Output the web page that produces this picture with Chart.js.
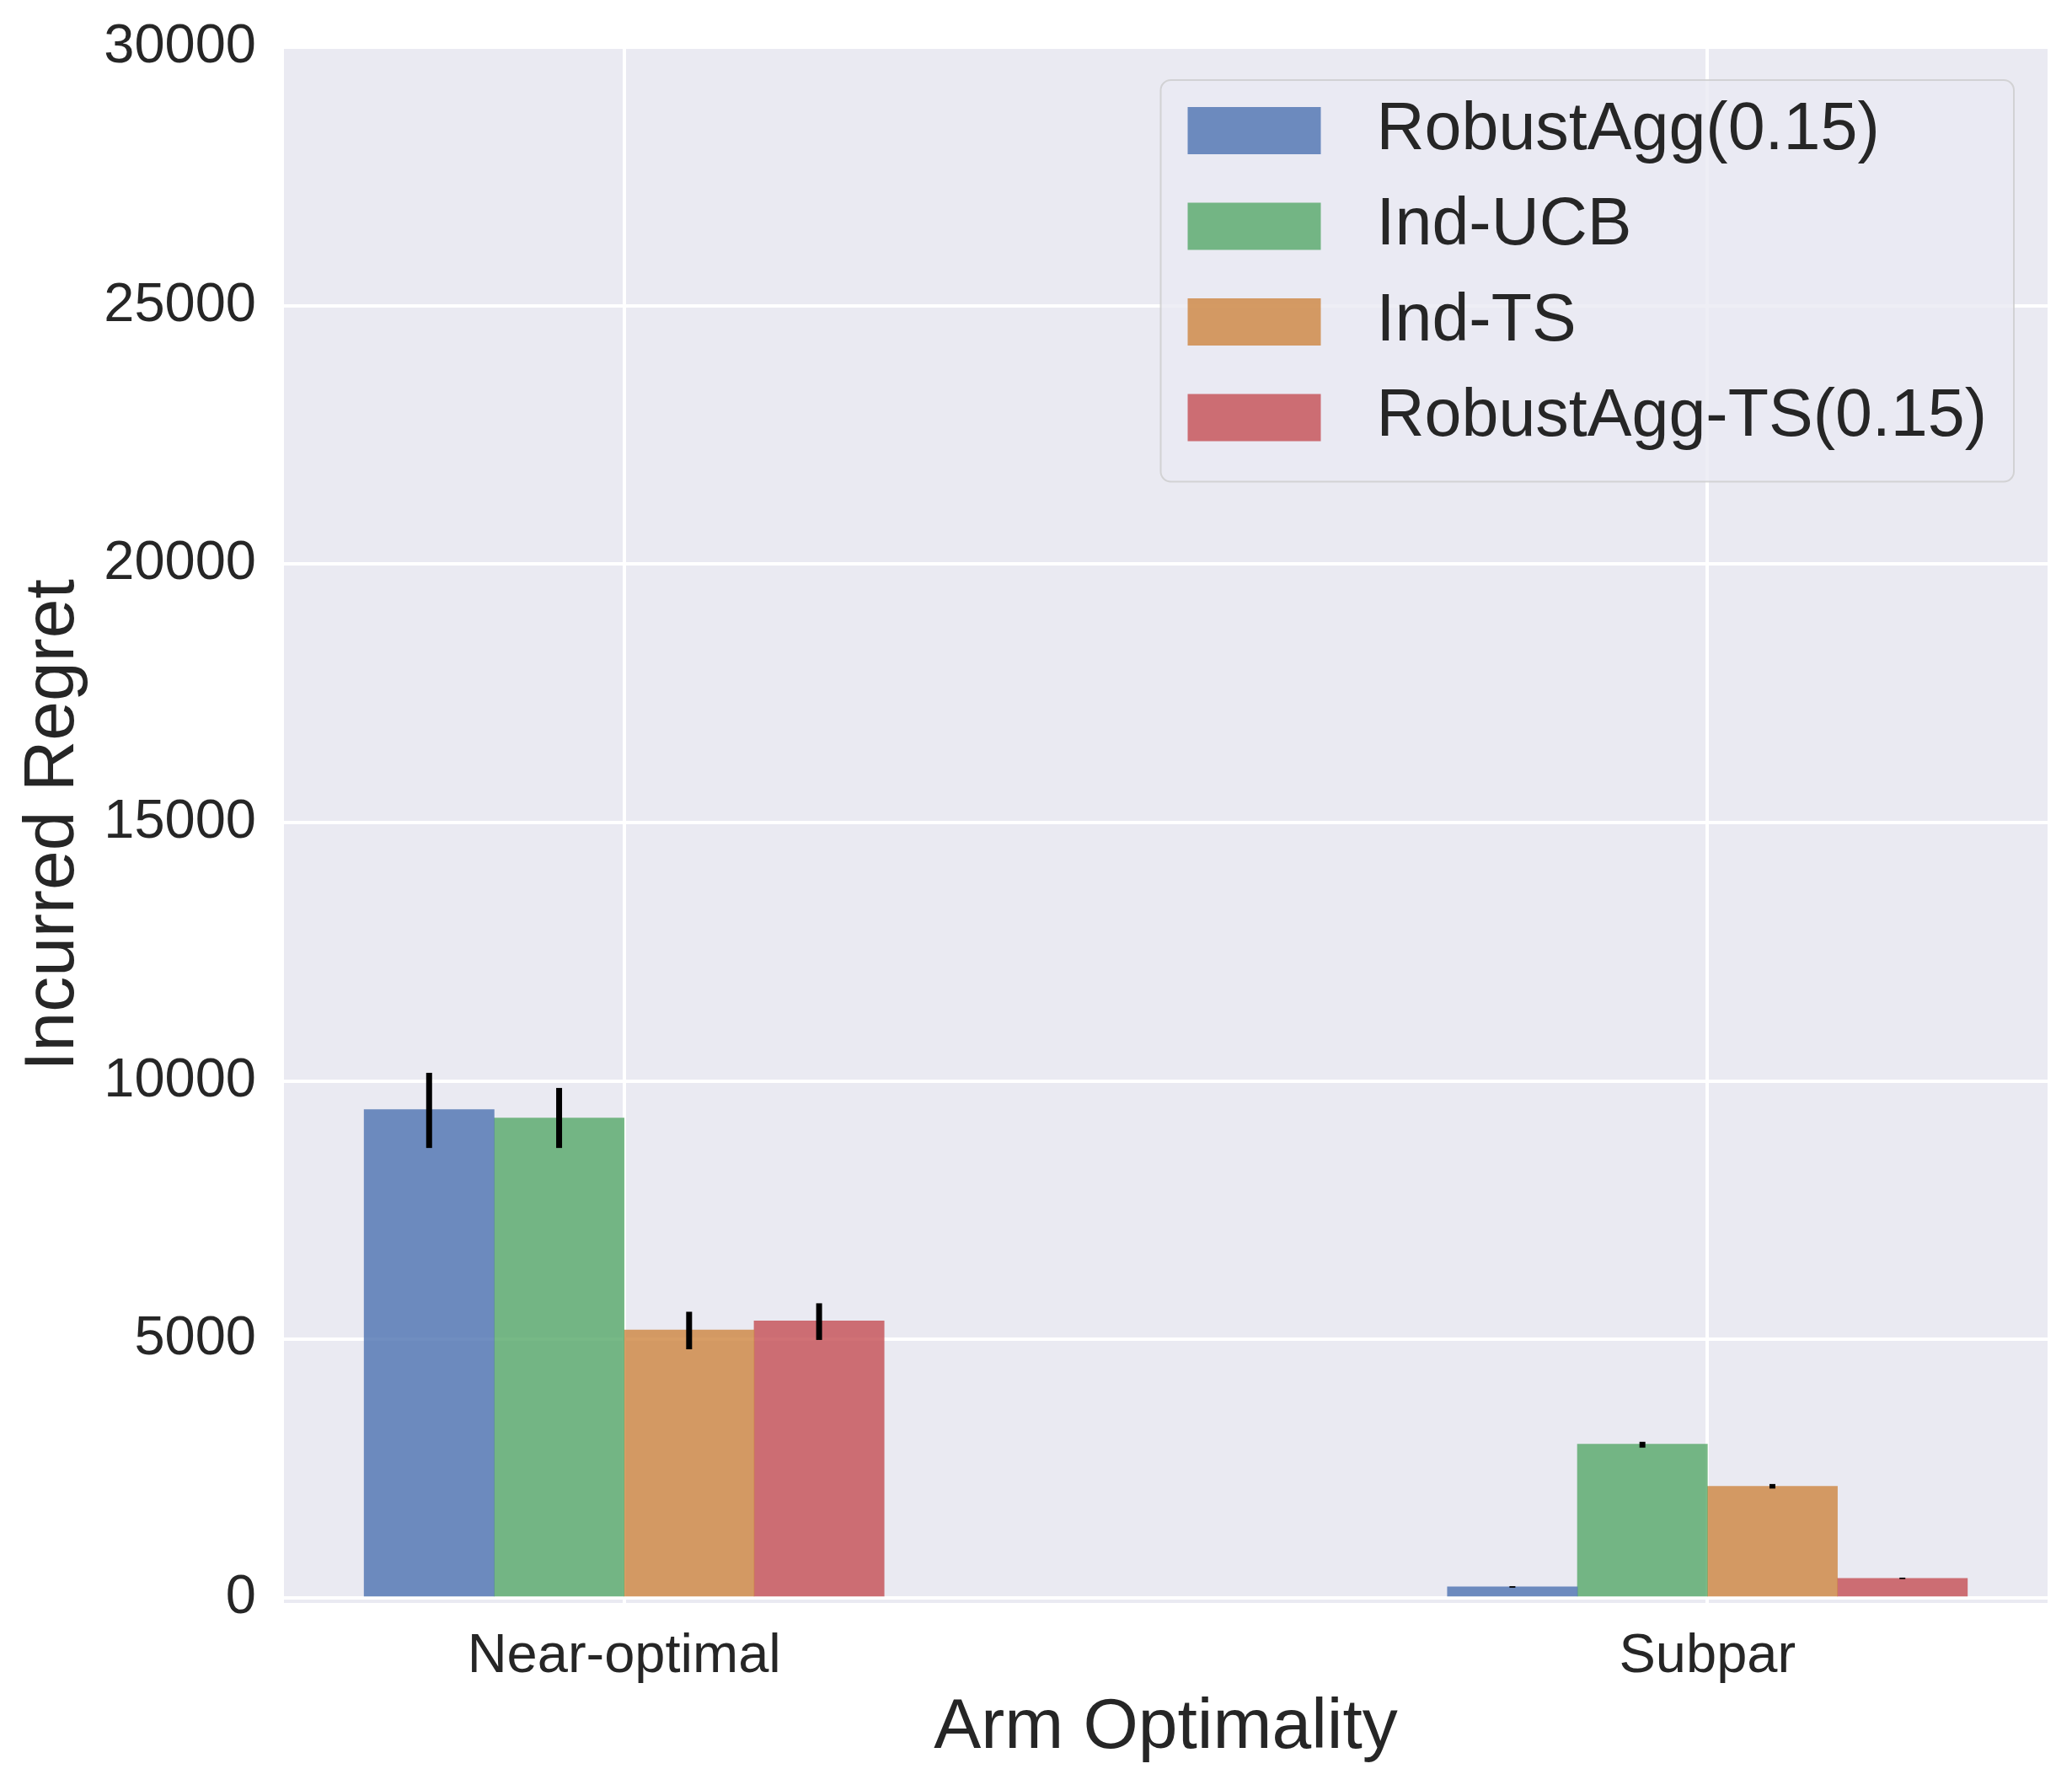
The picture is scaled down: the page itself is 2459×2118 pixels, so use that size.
<!DOCTYPE html>
<html>
<head>
<meta charset="utf-8">
<script src="https://cdn.jsdelivr.net/npm/chart.js@4/dist/chart.umd.min.js"></script>
<style>
  html, body { margin: 0; padding: 0; background: #ffffff; }
  canvas { display: block; }
</style>
</head>
<body>
<canvas id="canvas" width="2459" height="2118"></canvas>
<script>
const canvas = document.getElementById('canvas');
const ctx = canvas.getContext('2d');

// data
const categories = ['Near-optimal', 'Subpar'];
const seriesNames = ['RobustAgg(0.15)', 'Ind-UCB', 'Ind-TS', 'RobustAgg-TS(0.15)'];
const robustAgg = [9444, 212];
const indUcb = [9281, 2974];
const indTs = [5180, 2157];
const robustAggTs = [5359, 376];
// error bars as [low, high] per category
const robustAggErr = [[8703, 10157], [195, 225]];
const indUcbErr = [[8703, 9864], [2905, 3018]];
const indTsErr = [[4808, 5534], [2113, 2201]];
const robustAggTsErr = [[4989, 5698], [362, 390]];
const yTicks = [0, 5000, 10000, 15000, 20000, 25000, 30000];

const seriesValues = [robustAgg, indUcb, indTs, robustAggTs];
const seriesErrors = [robustAggErr, indUcbErr, indTsErr, robustAggTsErr];
const colors = [
  'rgba(76,114,176,0.8)',
  'rgba(85,168,104,0.8)',
  'rgba(205,133,63,0.8)',
  'rgba(196,78,82,0.8)'
];

const FONT = "'Liberation Sans', Arial, sans-serif";
const TEXT = '#262626';

// bars laid out like matplotlib: width 0.12 each, group centred on the category
const barWidth = 0.12;
const nSeries = seriesNames.length;
const halfGroup = barWidth * nSeries / 2;
const margin = 0.05 * (categories.length - 1 + 2 * halfGroup);

const datasets = seriesValues.map((vals, i) => ({
  label: seriesNames[i],
  data: vals.map((v, j) => ({ x: j + (i - (nSeries - 1) / 2) * barWidth, y: v })),
  backgroundColor: colors[i],
  borderWidth: 0,
  barPercentage: 1,
  categoryPercentage: 1,
  grouped: false
}));

const plotBackground = {
  id: 'plotBackground',
  beforeDraw(chart) {
    const { ctx, chartArea: a } = chart;
    ctx.save();
    ctx.fillStyle = '#eaeaf2';
    ctx.fillRect(a.left, a.top, a.right - a.left, a.bottom - a.top);
    ctx.restore();
  }
};

const errorBars = {
  id: 'errorBars',
  afterDatasetsDraw(chart) {
    const { ctx, scales: { y } } = chart;
    ctx.save();
    ctx.strokeStyle = '#000000';
    ctx.lineWidth = 7;
    ctx.lineCap = 'butt';
    chart.data.datasets.forEach((ds, i) => {
      const meta = chart.getDatasetMeta(i);
      seriesErrors[i].forEach(([lo, hi], j) => {
        const bar = meta.data[j];
        ctx.beginPath();
        ctx.moveTo(bar.x, y.getPixelForValue(lo));
        ctx.lineTo(bar.x, y.getPixelForValue(hi));
        ctx.stroke();
      });
    });
    ctx.restore();
  }
};

function roundedRect(c, x, y, w, h, r) {
  c.beginPath();
  c.moveTo(x + r, y);
  c.lineTo(x + w - r, y);
  c.arcTo(x + w, y, x + w, y + r, r);
  c.lineTo(x + w, y + h - r);
  c.arcTo(x + w, y + h, x + w - r, y + h, r);
  c.lineTo(x + r, y + h);
  c.arcTo(x, y + h, x, y + h - r, r);
  c.lineTo(x, y + r);
  c.arcTo(x, y, x + r, y, r);
  c.closePath();
}

// legend box inside the plot, upper right
const legendBox = {
  id: 'legendBox',
  afterDatasetsDraw(chart) {
    const { ctx, chartArea } = chart;
    const pad = 32, swatchW = 158, swatchH = 56, gap = 66;
    const firstRow = 60, rowH = 113.5, lastPad = 76;
    ctx.save();
    ctx.font = '79px ' + FONT;
    const maxW = Math.max(...chart.data.datasets.map(d => ctx.measureText(d.label).width));
    const w = pad + swatchW + gap + maxW + pad;
    const h = firstRow + (chart.data.datasets.length - 1) * rowH + lastPad;
    const x0 = chartArea.right - 40 - w;
    const y0 = chartArea.top + 39;
    roundedRect(ctx, x0, y0, w, h, 12);
    ctx.fillStyle = 'rgba(234,234,242,0.8)';
    ctx.fill();
    ctx.lineWidth = 2;
    ctx.strokeStyle = 'rgba(204,204,204,0.8)';
    ctx.stroke();
    ctx.textBaseline = 'middle';
    ctx.textAlign = 'left';
    chart.data.datasets.forEach((ds, i) => {
      const cy = y0 + firstRow + i * rowH;
      ctx.fillStyle = ds.backgroundColor;
      ctx.fillRect(x0 + pad, cy - swatchH / 2, swatchW, swatchH);
      ctx.fillStyle = TEXT;
      ctx.fillText(ds.label, x0 + pad + swatchW + gap, cy);
    });
    ctx.restore();
  }
};

new Chart(ctx, {
  type: 'bar',
  data: { datasets: datasets },
  options: {
    responsive: false,
    devicePixelRatio: 1,
    animation: false,
    layout: { padding: { top: 56, right: 29, left: 0, bottom: 0 } },
    plugins: {
      legend: { display: false },
      tooltip: { enabled: false }
    },
    scales: {
      x: {
        type: 'linear',
        offset: false,
        min: -halfGroup - margin,
        max: categories.length - 1 + halfGroup + margin,
        afterBuildTicks(scale) {
          scale.ticks = categories.map((c, i) => ({ value: i }));
        },
        afterFit(scale) {
          scale.height = 216;
          scale.paddingLeft = 0;
          scale.paddingRight = 0;
        },
        grid: { color: '#ffffff', lineWidth: 4, drawTicks: false, offset: false },
        border: { display: false },
        ticks: {
          padding: 25,
          color: TEXT,
          font: { family: FONT, size: 65 },
          maxRotation: 0,
          callback: (v, i) => categories[i]
        },
        title: {
          display: true,
          text: 'Arm Optimality',
          color: TEXT,
          font: { family: FONT, size: 84 },
          padding: { top: 0, bottom: 17 }
        }
      },
      y: {
        min: -100,
        max: 30000,
        afterBuildTicks(scale) {
          scale.ticks = yTicks.map(v => ({ value: v }));
        },
        afterFit(scale) {
          scale.width = 337;
          scale.paddingTop = 0;
          scale.paddingBottom = 0;
        },
        grid: { color: '#ffffff', lineWidth: 4, drawTicks: false },
        border: { display: false },
        ticks: {
          padding: 33,
          color: TEXT,
          font: { family: FONT, size: 65 },
          callback: v => String(v)
        },
        title: {
          display: true,
          text: 'Incurred Regret',
          color: TEXT,
          font: { family: FONT, size: 84 },
          padding: { top: 13, bottom: 0 }
        }
      }
    }
  },
  plugins: [plotBackground, errorBars, legendBox]
});
</script>
</body>
</html>
